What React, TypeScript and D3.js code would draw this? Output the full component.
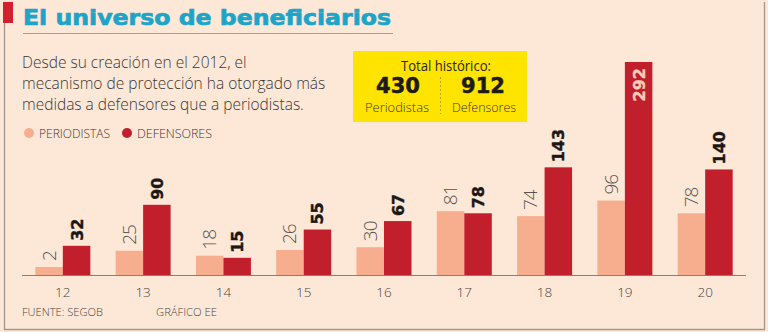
import React from "react";
import * as d3 from "d3";

const years = ["12", "13", "14", "15", "16", "17", "18", "19", "20"];
const periodistas = [2, 25, 18, 26, 30, 81, 74, 96, 78];
const defensores = [32, 90, 15, 55, 67, 78, 143, 292, 140];
const titleText = "El universo de beneficiarios";
const descLines = [
  "Desde su creación en el 2012, el",
  "mecanismo de protección ha otorgado más",
  "medidas a defensores que a periodistas.",
];
const legendLabels = ["PERIODISTAS", "DEFENSORES"];
const totalPeriodistas = 430;
const totalDefensores = 912;

const W = 768;
const H = 332;
const BG = "#fde8d8";
const PERI = "#f6ae8e";
const DEF = "#c11f2b";
const CYAN = "#1ea4c7";
const BORDER = "#a3968c";
const LIGHT_FONT = "'Open Sans', 'DejaVu Sans', sans-serif";
const BOLD_FONT = "'DejaVu Sans', sans-serif";

export default function App() {
  const baseY = 275;
  const x = d3
    .scaleBand<string>()
    .domain(years)
    .range([22, 746])
    .paddingInner(0.315)
    .paddingOuter(0.166);
  const y = d3.scaleLinear().domain([-9.3, 292]).range([baseY, 62]);
  const bw = x.bandwidth() / 2;

  return (
    <svg
      width={W}
      height={H}
      style={{ position: "absolute", left: 0, top: 0, display: "block" }}
    >
      <rect x={0} y={0} width={W} height={H} fill={BG} />
      {/* frame */}
      <path
        d={`M4.5,22 V329.5 H764.5 V2`}
        fill="none"
        stroke={BORDER}
        strokeWidth={1.3}
      />
      <rect x={3} y={2} width={10} height={21} fill="#d3202e" />
      {/* title */}
      <text
        x={23}
        y={24.5}
        fill={CYAN}
        stroke={CYAN}
        strokeWidth={0.7}
        fontFamily={BOLD_FONT}
        fontWeight={700}
        fontSize={22}
        textLength={368}
        lengthAdjust="spacingAndGlyphs"
      >
        {titleText}
      </text>
      <line x1={23} x2={393} y1={33.5} y2={33.5} stroke={CYAN} strokeWidth={1} opacity={0.7} />
      {/* description */}
      {descLines.map((t, i) => (
        <text
          key={i}
          x={22}
          y={68 + i * 21}
          fill="#3b3633"
          fontFamily={LIGHT_FONT}
          fontWeight={300}
          fontSize={15.5}
        >
          {t}
        </text>
      ))}
      {/* legend */}
      <circle cx={29} cy={133} r={5} fill={PERI} />
      <text x={39} y={138} fontFamily={LIGHT_FONT} fontWeight={300} fontSize={12.5} fill="#3b3633" textLength={71} lengthAdjust="spacingAndGlyphs">
        {legendLabels[0]}
      </text>
      <circle cx={127} cy={133} r={5} fill={DEF} />
      <text x={137} y={138} fontFamily={LIGHT_FONT} fontWeight={300} fontSize={12.5} fill="#3b3633" textLength={75} lengthAdjust="spacingAndGlyphs">
        {legendLabels[1]}
      </text>
      {/* totals box */}
      <rect x={353} y={51} width={174} height={71} fill="#ffe400" />
      <text x={446} y={70.5} textAnchor="middle" fontFamily={LIGHT_FONT} fontWeight={400} fontSize={15} fill="#2b2622" textLength={90} lengthAdjust="spacingAndGlyphs">
        Total histórico:
      </text>
      <text x={398} y={92.5} textAnchor="middle" fontFamily={BOLD_FONT} fontWeight={700} fontSize={21} fill="#1d1a17" stroke="#1d1a17" strokeWidth={0.5}>
        {totalPeriodistas}
      </text>
      <text x={483} y={92.5} textAnchor="middle" fontFamily={BOLD_FONT} fontWeight={700} fontSize={21} fill="#1d1a17" stroke="#1d1a17" strokeWidth={0.5}>
        {totalDefensores}
      </text>
      <line x1={440.5} x2={440.5} y1={77} y2={114} stroke="#b8a600" strokeWidth={1} strokeDasharray="2,2" />
      <text x={397} y={112} textAnchor="middle" fontFamily={LIGHT_FONT} fontWeight={300} fontSize={13.5} fill="#3b3633" textLength={64} lengthAdjust="spacingAndGlyphs">
        Periodistas
      </text>
      <text x={484} y={112} textAnchor="middle" fontFamily={LIGHT_FONT} fontWeight={300} fontSize={13.5} fill="#3b3633" textLength={64} lengthAdjust="spacingAndGlyphs">
        Defensores
      </text>
      {/* bars */}
      {years.map((yr, i) => {
        const x0 = x(yr) as number;
        const pv = periodistas[i];
        const dv = defensores[i];
        const pTop = y(pv);
        const dTop = y(dv);
        const pc = x0 + bw / 2;
        const dc = x0 + bw + bw / 2;
        const inside = dv === d3.max(defensores);
        return (
          <g key={yr}>
            <rect x={x0} y={pTop} width={bw} height={baseY - pTop} fill={PERI} />
            <rect x={x0 + bw} y={dTop} width={bw} height={baseY - dTop} fill={DEF} />
            <text
              transform={`translate(${pc + 6.5},${pTop - 6}) rotate(-90)`}
              fontFamily={LIGHT_FONT}
              fontWeight={300}
              fontSize={19}
              fill="#5a524c"
              letterSpacing={-1}
            >
              {pv}
            </text>
            {inside ? (
              <text
                transform={`translate(${dc + 6},${dTop + 6}) rotate(-90)`}
                textAnchor="end"
                fontFamily={BOLD_FONT}
                fontWeight={700}
                fontSize={16}
                fill="#f6cdb9"
                stroke="#f6cdb9"
                strokeWidth={0.4}
              >
                {dv}
              </text>
            ) : (
              <text
                transform={`translate(${dc + 6},${dTop - 5}) rotate(-90)`}
                fontFamily={BOLD_FONT}
                fontWeight={700}
                fontSize={16}
                fill="#1a1715"
                stroke="#1a1715"
                strokeWidth={0.4}
              >
                {dv}
              </text>
            )}
            <text
              x={x0 + x.bandwidth() / 2}
              y={297}
              textAnchor="middle"
              fontFamily={LIGHT_FONT}
              fontWeight={300}
              fontSize={13.5}
              fill="#4a4440"
            >
              {yr}
            </text>
          </g>
        );
      })}
      <line x1={22} x2={746} y1={baseY + 0.5} y2={baseY + 0.5} stroke="#8a7e76" strokeWidth={1} />
      {/* footer */}
      <text x={22} y={316} fontFamily={LIGHT_FONT} fontWeight={300} fontSize={11.5} fill="#4a4440" textLength={81} lengthAdjust="spacingAndGlyphs">
        FUENTE: SEGOB
      </text>
      <text x={156} y={316} fontFamily={LIGHT_FONT} fontWeight={300} fontSize={11.5} fill="#4a4440" textLength={61} lengthAdjust="spacingAndGlyphs">
        GRÁFICO EE
      </text>
    </svg>
  );
}
